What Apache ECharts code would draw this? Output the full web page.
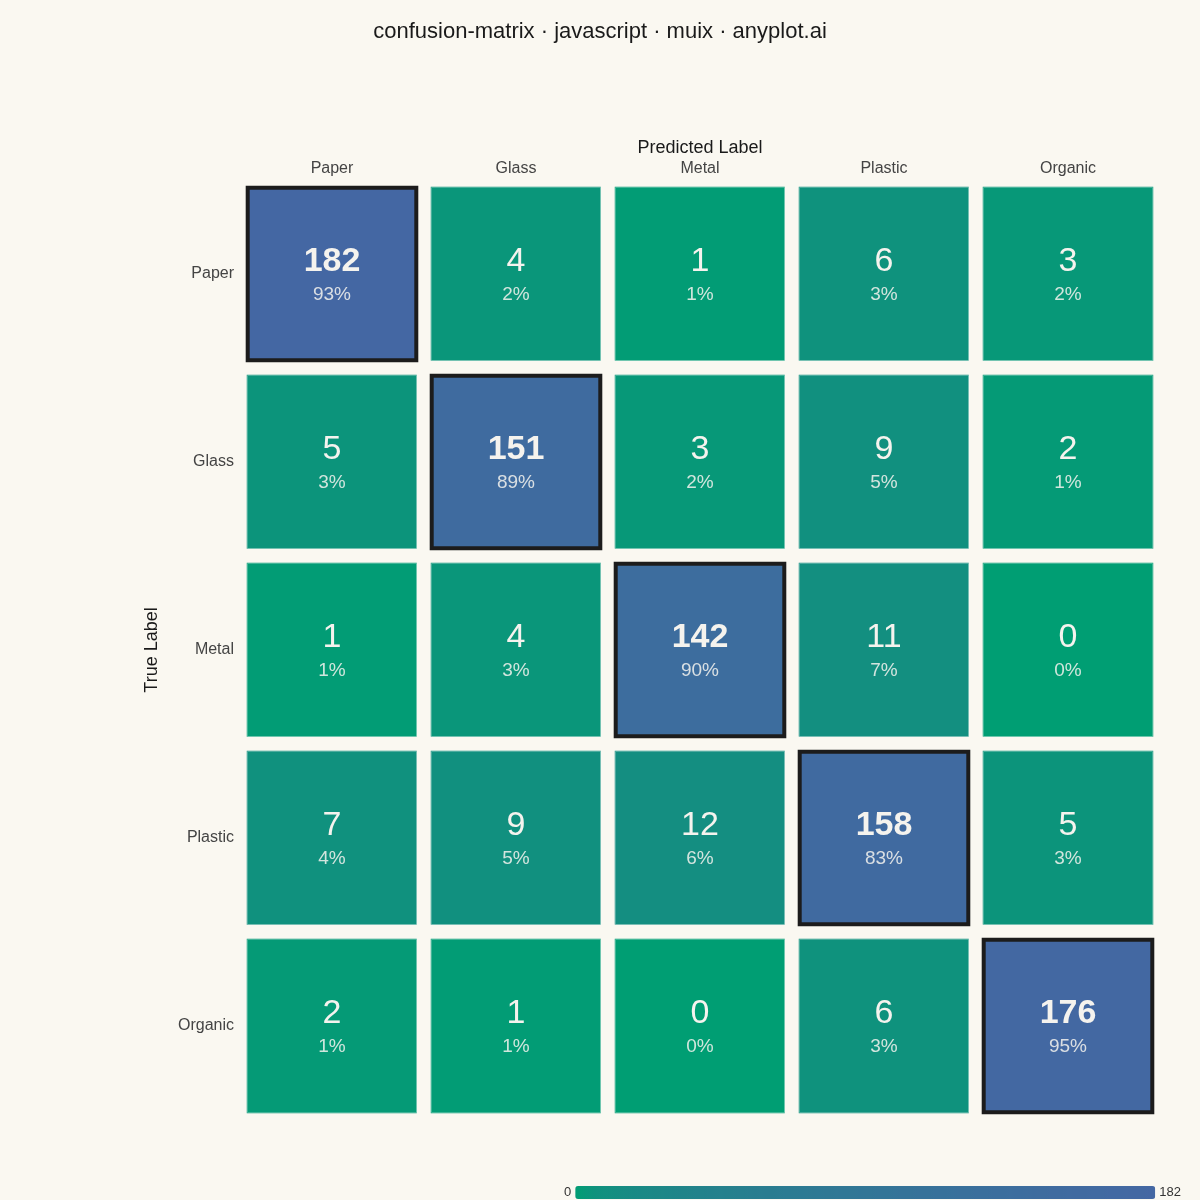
<!DOCTYPE html>
<html>
<head>
<meta charset="utf-8">
<title>confusion-matrix</title>
<script src="https://cdn.jsdelivr.net/npm/echarts@6/dist/echarts.min.js"></script>
<style>
  html, body { margin: 0; padding: 0; background: #FAF8F1; }
  #chart { width: 1200px; height: 1200px; }
</style>
</head>
<body>
<div id="chart"></div>
<script>
const classes = ['Paper', 'Glass', 'Metal', 'Plastic', 'Organic'];

// rows = true label, columns = predicted label
const paperRow = [182, 4, 1, 6, 3];
const glassRow = [5, 151, 3, 9, 2];
const metalRow = [1, 4, 142, 11, 0];
const plasticRow = [7, 9, 12, 158, 5];
const organicRow = [2, 1, 0, 6, 176];

const rows = [paperRow, glassRow, metalRow, plasticRow, organicRow];

const bg = '#FAF8F1';
const lowColor = [0, 158, 115];
const highColor = [68, 103, 163];

// colour ramp is roughly square-root shaped (fast change near zero)
const ramp = [];
for (let i = 0; i <= 30; i++) {
  const t = Math.pow(i / 30, 0.45);
  const c = lowColor.map((v, k) => Math.round(v + (highColor[k] - v) * t));
  ramp.push('rgb(' + c.join(',') + ')');
}

const cells = [];
rows.forEach((row, y) => {
  const total = row.reduce((a, b) => a + b, 0);
  row.forEach((v, x) => cells.push([x, y, v, Math.round(v / total * 100)]));
});
const maxValue = Math.max(...cells.map(c => c[2]));

const chart = echarts.init(document.getElementById('chart'));

chart.setOption({
  backgroundColor: bg,
  textStyle: { fontFamily: 'Liberation Sans, Arial, sans-serif' },
  title: {
    text: 'confusion-matrix · javascript · muix · anyplot.ai',
    left: 'center',
    top: 16,
    textStyle: { fontSize: 22, fontWeight: 'normal', color: '#1a1a1a' }
  },
  grid: { left: 240, right: 40, top: 180, bottom: 80 },
  xAxis: {
    type: 'category',
    position: 'top',
    z: 10,
    data: classes,
    name: 'Predicted Label',
    nameLocation: 'middle',
    nameGap: 23,
    nameMoveOverlap: false,
    nameTextStyle: { fontSize: 18, color: '#1a1a1a' },
    axisLine: { show: false },
    axisTick: { show: false },
    splitArea: { show: false },
    axisLabel: { fontSize: 16, color: '#444', margin: 3 }
  },
  yAxis: {
    type: 'category',
    inverse: true,
    z: 10,
    data: classes,
    name: 'True Label',
    nameLocation: 'middle',
    nameGap: 79,
    nameMoveOverlap: false,
    nameTextStyle: { fontSize: 18, color: '#1a1a1a' },
    axisLine: { show: false },
    axisTick: { show: false },
    splitArea: { show: false },
    axisLabel: { fontSize: 16, color: '#444', margin: 6 }
  },
  visualMap: {
    type: 'continuous',
    seriesIndex: 0,
    dimension: 2,
    min: 0,
    max: maxValue,
    orient: 'horizontal',
    left: 549,
    bottom: -14,
    itemWidth: 13,
    itemHeight: 580,
    calculable: false,
    text: [String(maxValue), '0'],
    textGap: 4,
    textStyle: { fontSize: 13, color: '#333' },
    inRange: { color: ramp }
  },
  series: [
    {
      type: 'heatmap',
      data: cells,
      itemStyle: { borderColor: bg, borderWidth: 14 },
      emphasis: { disabled: true },
      label: {
        show: true,
        formatter: p => {
          const diag = p.data[0] === p.data[1];
          return '{' + (diag ? 'vb' : 'v') + '|' + p.data[2] + '}\n{p|' + p.data[3] + '%}';
        },
        rich: {
          v: { fontSize: 34, lineHeight: 42, color: '#F5F3EE' },
          vb: { fontSize: 34, lineHeight: 42, color: '#F5F3EE', fontWeight: 'bold' },
          p: { fontSize: 19, lineHeight: 24, color: 'rgba(245,243,238,0.85)' }
        }
      }
    },
    {
      type: 'custom',
      data: cells,
      silent: true,
      z: 5,
      renderItem: (params, api) => {
        const x = api.value(0);
        const y = api.value(1);
        const c = api.coord([x, y]);
        const s = api.size([1, 1]);
        const diag = x === y;
        const inset = diag ? 7.7 : 7.5;
        return {
          type: 'rect',
          shape: {
            x: c[0] - s[0] / 2 + inset,
            y: c[1] - s[1] / 2 + inset,
            width: s[0] - inset * 2,
            height: s[1] - inset * 2
          },
          style: {
            fill: 'none',
            stroke: diag ? '#1c1c1c' : 'rgba(255,255,255,0.25)',
            lineWidth: diag ? 4 : 1
          }
        };
      }
    }
  ]
});

window.onresize = () => chart.resize();
</script>
</body>
</html>
